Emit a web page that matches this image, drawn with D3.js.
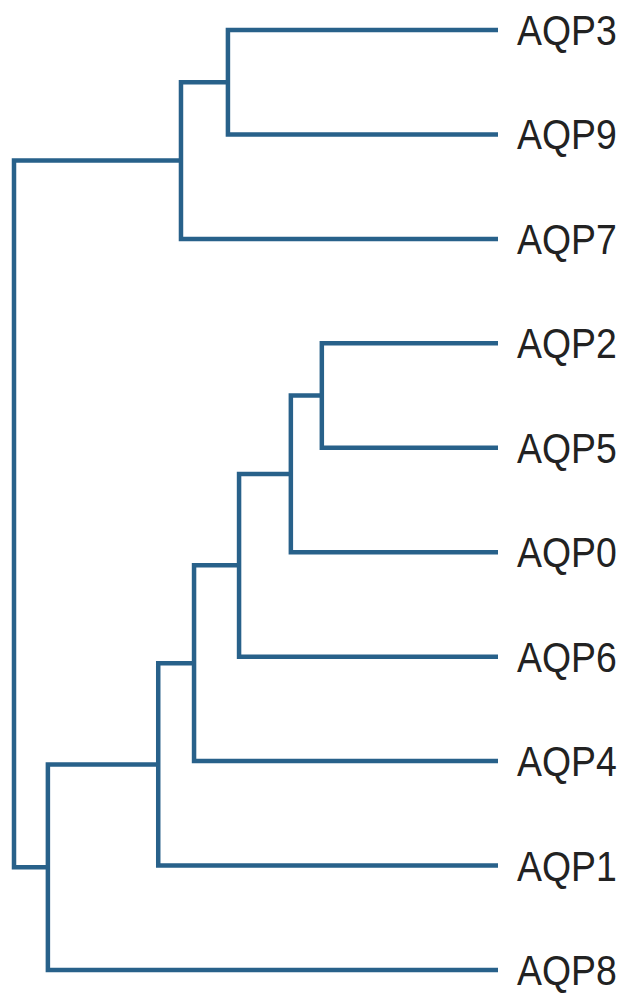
<!DOCTYPE html>
<html>
<head>
<meta charset="utf-8">
<script src="https://cdn.jsdelivr.net/npm/d3@7"></script>
<style>
  html, body { margin: 0; padding: 0; background: #fff; }
  svg { display: block; }
</style>
</head>
<body>
<svg id="chart" width="625" height="996"></svg>
<script>
// Leaf order (top to bottom)
const leaves = ["AQP3", "AQP9", "AQP7", "AQP2", "AQP5", "AQP0", "AQP6", "AQP4", "AQP1", "AQP8"];
// Merges (linkage): merge i creates node "N" + (i + 1)
const mergeLeft  = ["AQP3", "N1",   "AQP2", "N3",   "N4",   "N5",   "N6",   "N7",   "N2"];
const mergeRight = ["AQP9", "AQP7", "AQP5", "AQP0", "AQP6", "AQP4", "AQP1", "AQP8", "N8"];
// Distance of each merge node from the root (leaves are at 1)
const mergeDepth = [0.442, 0.345, 0.636, 0.572, 0.465, 0.372, 0.298, 0.070, 0];
const leafDepth = 1;

// Build hierarchy data
const nodes = {};
leaves.forEach(n => nodes[n] = { name: n, depthVal: leafDepth });
mergeLeft.forEach((l, i) => {
  const id = "N" + (i + 1);
  nodes[id] = { name: id, depthVal: mergeDepth[i], children: [nodes[l], nodes[mergeRight[i]]] };
});
const rootId = "N" + mergeLeft.length;
const root = d3.hierarchy(nodes[rootId]);

const x = d3.scaleLinear().domain([0, 1]).range([14, 498]);
const y = d3.scalePoint().domain(leaves).range([30, 970]);

// positions
root.eachAfter(d => {
  d.px = x(d.data.depthVal);
  if (!d.children) d.py = y(d.data.name);
  else d.py = (d.children[0].py + d.children[1].py) / 2;
});

const svg = d3.select("#chart");
svg.append("rect").attr("width", 625).attr("height", 996).attr("fill", "#fff");

const color = "#28618a";

svg.append("g")
  .selectAll("path")
  .data(root.descendants().filter(d => d.children))
  .join("path")
  .attr("d", d => {
    const [a, b] = d.children;
    return `M${a.px},${a.py}H${d.px}V${b.py}H${b.px}`;
  })
  .attr("fill", "none")
  .attr("stroke", color)
  .attr("stroke-width", 4.5)
  .attr("stroke-linejoin", "miter");

const fontSize = 42;
const squeeze = 0.89;
svg.append("g")
  .selectAll("text")
  .data(root.leaves())
  .join("text")
  .attr("transform", d => `translate(${d.px + 19},${d.py + fontSize * 0.716 / 2}) scale(${squeeze},1)`)
  .attr("font-family", "Liberation Sans, Arial, Helvetica, sans-serif")
  .attr("font-size", fontSize)
  .attr("fill", "#222")
  .text(d => d.data.name);
</script>
</body>
</html>
